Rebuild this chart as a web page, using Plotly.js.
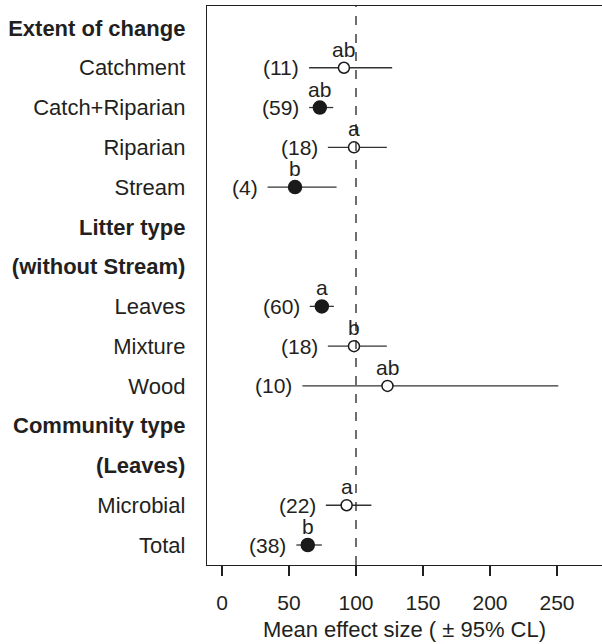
<!DOCTYPE html>
<html>
<head>
<meta charset="utf-8">
<script src="https://cdn.plot.ly/plotly-3.0.1.min.js"></script>
<style>html,body{margin:0;padding:0;background:#fff;}#chart{width:602px;height:644px;}</style>
</head>
<body>
<div id="chart"></div>
<script>
// Row labels (top to bottom); headers in bold
const rowLabels = ["Extent of change","Catchment","Catch+Riparian","Riparian","Stream",
  "Litter type","(without Stream)","Leaves","Mixture","Wood",
  "Community type","(Leaves)","Microbial","Total"];
const headerRows = ["Extent of change","Litter type","(without Stream)","Community type","(Leaves)"];

// Data rows
const categories = ["Catchment","Catch+Riparian","Riparian","Stream","Leaves","Mixture","Wood","Microbial","Total"];
const meanEffect = [91, 73, 98.5, 54.5, 74.5, 98.5, 123.5, 93, 64];
const lowerCL    = [65, 65, 79, 34, 65.5, 79, 60, 77.5, 55.5];
const upperCL    = [127, 83, 123, 85.5, 83.5, 123, 251, 111.5, 74.5];
const sampleN    = [11, 59, 18, 4, 60, 18, 10, 22, 38];
const letters    = ["ab","ab","a","b","a","b","ab","a","b"];
const filled     = [false, true, false, true, true, false, false, false, true];
const xTicks     = [0, 50, 100, 150, 200, 250];

const FONT = "Liberation Sans, Arial, Helvetica, sans-serif";
const TXT = "#231f20";

const yPos = categories.map(c => rowLabels.indexOf(c));

const trace = {
  type: "scatter", mode: "markers",
  x: meanEffect, y: yPos,
  error_x: {
    type: "data", symmetric: false,
    array: upperCL.map((u,i) => u - meanEffect[i]),
    arrayminus: lowerCL.map((l,i) => meanEffect[i] - l),
    width: 0, thickness: 1.3, color: "#333"
  },
  marker: {
    size: filled.map(f => f ? 13 : 11),
    opacity: 1,
    color: filled.map(f => f ? "#1a1a1a" : "#ffffff"),
    line: {color: "#1a1a1a", width: 1.5}
  },
  hoverinfo: "skip", showlegend: false
};

const annotations = [];
categories.forEach((c, i) => {
  annotations.push({
    x: lowerCL[i], y: yPos[i], xref: "x", yref: "y",
    text: "(" + sampleN[i] + ")", showarrow: false,
    xanchor: "right", yanchor: "middle", xshift: -8,
    font: {family: FONT, size: 21, color: TXT}
  });
  annotations.push({
    x: meanEffect[i], y: yPos[i], xref: "x", yref: "y",
    text: letters[i], showarrow: false,
    xanchor: "center", yanchor: "bottom", yshift: 5,
    font: {family: FONT, size: 21, color: TXT}
  });
});

const layout = {
  width: 602, height: 644,
  margin: {l: 207, r: 0, t: 6, b: 79},
  paper_bgcolor: "#fff", plot_bgcolor: "#fff",
  showlegend: false,
  xaxis: {
    range: [-11.2, 283.6], tickvals: xTicks, ticktext: xTicks.map(String),
    ticks: "outside", ticklen: 10, tickwidth: 1.2, tickcolor: "#231f20",
    showline: true, linecolor: "#231f20", linewidth: 1.2, mirror: true,
    showgrid: false, zeroline: false,
    tickfont: {family: FONT, size: 21, color: TXT},
    ticklabelstandoff: 9,
    title: {text: "Mean effect size ( \u00b1 95% CL)", font: {family: FONT, size: 22, color: TXT}, standoff: 8}
  },
  yaxis: {
    range: [13.503, -0.553],
    tickvals: rowLabels.map((_, i) => i),
    ticktext: rowLabels.map(l => headerRows.includes(l) ? "<b>" + l + "</b>" : l),
    ticks: "", showline: true, linecolor: "#231f20", linewidth: 1.2,
    showgrid: false, zeroline: false,
    tickfont: {family: FONT, size: 22, color: TXT},
    ticklabelstandoff: 16
  },
  shapes: [{
    type: "line", xref: "x", yref: "paper", x0: 100, x1: 100, y0: 0, y1: 1,
    line: {color: "#231f20", width: 1.3, dash: "dash"}
  }],
  annotations: annotations
};

Plotly.newPlot("chart", [trace], layout, {staticPlot: true, displayModeBar: false});
</script>
</body>
</html>
